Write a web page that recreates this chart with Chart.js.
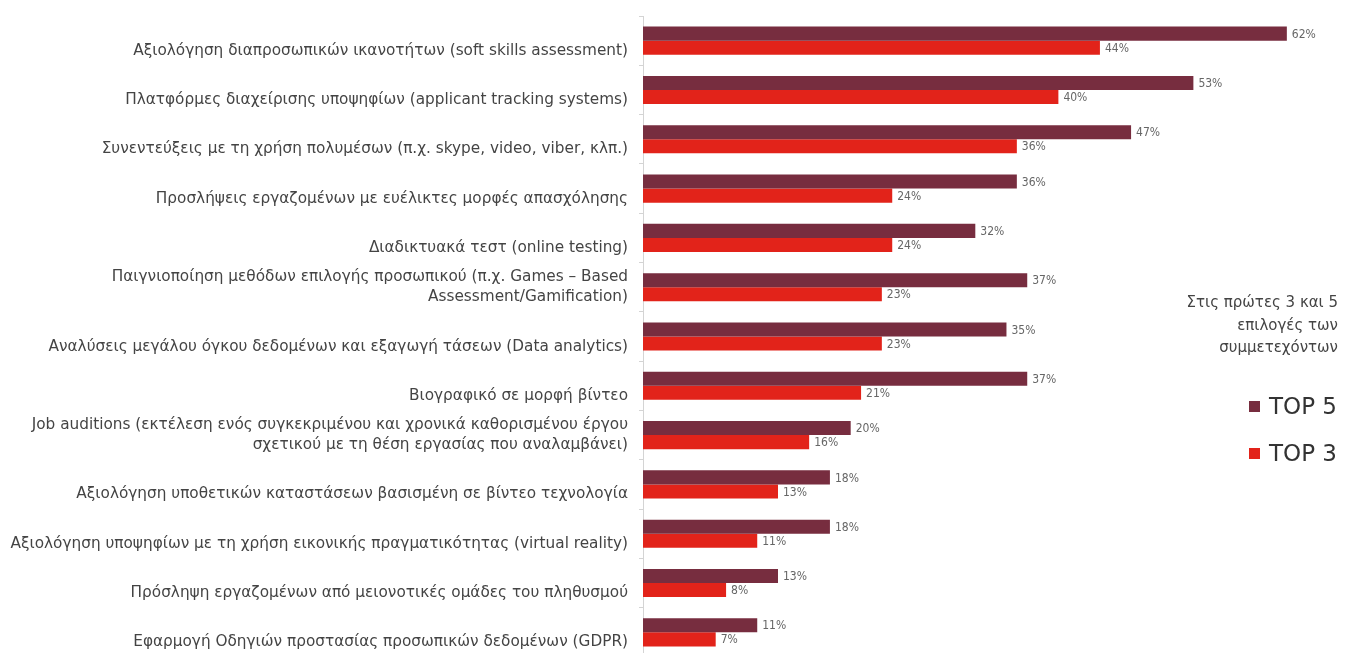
<!DOCTYPE html>
<html>
<head>
<meta charset="utf-8">
<script src="https://cdn.jsdelivr.net/npm/chart.js@4"></script>
<style>
  html, body { margin: 0; padding: 0; background: #fff; overflow: hidden; }
  #wrap { position: relative; width: 1349px; height: 662px; }
  #chart { position: absolute; left: 0; top: 0; }
  .note { position: absolute; right: 11px; top: 291px; width: 220px; text-align: right;
    font-family: "DejaVu Sans", sans-serif; font-size: 15px; line-height: 22.5px; color: #444; }
  .leg { position: absolute; right: 12px; font-family: "DejaVu Sans", sans-serif; font-size: 23px;
    color: #333; display: flex; align-items: center; }
  .leg span { display: inline-block; width: 11px; height: 11px; margin-right: 9px; }
</style>
</head>
<body>
<div id="wrap">
  <canvas id="chart" width="1349" height="662"></canvas>
  <div class="note">Στις πρώτες 3 και 5<br>επιλογές των<br>συμμετεχόντων</div>
  <div class="leg" style="top: 393px;"><span style="background:#772d3f"></span>TOP 5</div>
  <div class="leg" style="top: 440px;"><span style="background:#e2231a"></span>TOP 3</div>
</div>
<script>
  const categories = [
    ['', 'Αξιολόγηση διαπροσωπικών ικανοτήτων (soft skills assessment)'],
    ['', 'Πλατφόρμες διαχείρισης υποψηφίων (applicant tracking systems)'],
    ['', 'Συνεντεύξεις με τη χρήση πολυμέσων (π.χ. skype, video, viber, κλπ.)'],
    ['', 'Προσλήψεις εργαζομένων με ευέλικτες μορφές απασχόλησης'],
    ['', 'Διαδικτυακά τεστ (online testing)'],
    ['Παιγνιοποίηση μεθόδων επιλογής προσωπικού (π.χ. Games – Based', 'Assessment/Gamification)'],
    ['', 'Αναλύσεις μεγάλου όγκου δεδομένων και εξαγωγή τάσεων (Data analytics)'],
    ['', 'Βιογραφικό σε μορφή βίντεο'],
    ['Job auditions (εκτέλεση ενός συγκεκριμένου και χρονικά καθορισμένου έργου', 'σχετικού με τη θέση εργασίας που αναλαμβάνει)'],
    ['', 'Αξιολόγηση υποθετικών καταστάσεων βασισμένη σε βίντεο τεχνολογία'],
    ['', 'Αξιολόγηση υποψηφίων με τη χρήση εικονικής πραγματικότητας (virtual reality)'],
    ['', 'Πρόσληψη εργαζομένων από μειονοτικές ομάδες του πληθυσμού'],
    ['', 'Εφαρμογή Οδηγιών προστασίας προσωπικών δεδομένων (GDPR)']
  ];
  const top5 = [62, 53, 47, 36, 32, 37, 35, 37, 20, 18, 18, 13, 11];
  const top3 = [44, 40, 36, 24, 24, 23, 23, 21, 16, 13, 11, 8, 7];
  const seriesNames = ['TOP 5', 'TOP 3'];

  const valueLabels = {
    id: 'valueLabels',
    afterDatasetsDraw(chart) {
      const ctx = chart.ctx;
      ctx.save();
      ctx.font = '12px "Liberation Sans Narrow", "DejaVu Sans Condensed", sans-serif';
      ctx.fillStyle = '#666';
      ctx.textBaseline = 'middle';
      chart.data.datasets.forEach((ds, i) => {
        chart.getDatasetMeta(i).data.forEach((bar, j) => {
          ctx.fillText(ds.data[j] + '%', bar.x + 5, bar.y + 1);
        });
      });
      ctx.restore();
    }
  };

  const ctx = document.getElementById('chart').getContext('2d');
  new Chart(ctx, {
    type: 'bar',
    data: {
      labels: categories,
      datasets: [
        { label: seriesNames[0], data: top5, backgroundColor: '#772d3f' },
        { label: seriesNames[1], data: top3, backgroundColor: '#e2231a' }
      ]
    },
    options: {
      indexAxis: 'y',
      responsive: false,
      animation: false,
      categoryPercentage: 0.57,
      barPercentage: 1,
      layout: { padding: { top: 16, bottom: 5, left: 0, right: 31 } },
      plugins: {
        legend: { display: false },
        tooltip: { enabled: false }
      },
      scales: {
        x: { display: false, min: 0, max: 65 },
        y: {
          afterFit(scale) {
            scale.width = 643;
            scale.paddingTop = 0;
            scale.paddingBottom = 0;
          },
          border: { display: true, color: '#d4d4d4' },
          grid: { offset: true, drawOnChartArea: false, tickLength: 4, color: '#d4d4d4' },
          ticks: {
            padding: 11,
            color: '#444',
            font: { family: '"DejaVu Sans", sans-serif', size: 15.3, lineHeight: 1.32 }
          }
        }
      }
    },
    plugins: [valueLabels]
  });
</script>
</body>
</html>
